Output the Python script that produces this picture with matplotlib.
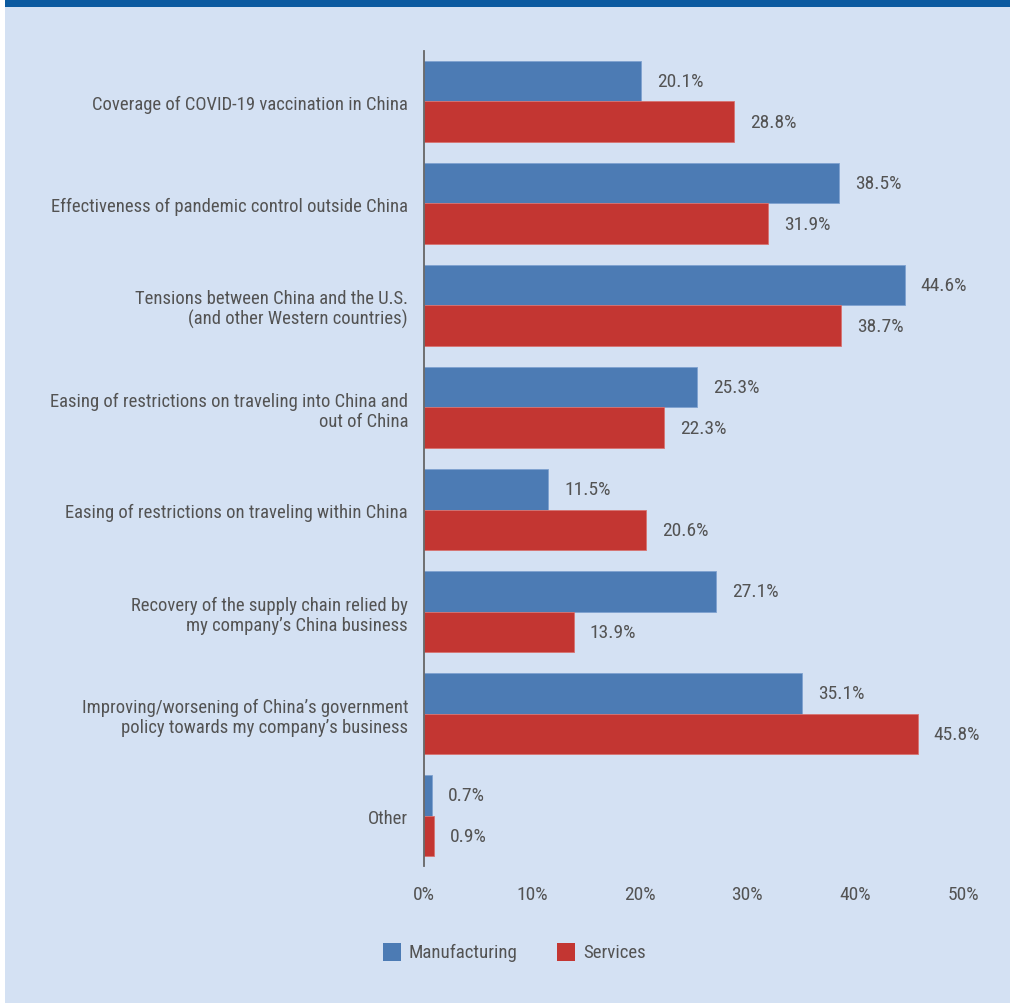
import matplotlib
matplotlib.use("Agg")
import matplotlib.pyplot as plt
from matplotlib.patches import Rectangle
import numpy as np

plt.rcParams['font.family'] = ['Roboto Condensed', 'DejaVu Sans']

categories = [
    "Coverage of COVID-19 vaccination in China",
    "Effectiveness of pandemic control outside China",
    "Tensions between China and the U.S.\n(and other Western countries)",
    "Easing of restrictions on traveling into China and\nout of China",
    "Easing of restrictions on traveling within China",
    "Recovery of the supply chain relied by\nmy company\u2019s China business",
    "Improving/worsening of China\u2019s government\npolicy towards my company\u2019s business",
    "Other",
]
manufacturing = [20.1, 38.5, 44.6, 25.3, 11.5, 27.1, 35.1, 0.7]
services = [28.8, 31.9, 38.7, 22.3, 20.6, 13.9, 45.8, 0.9]
xticks = [0, 10, 20, 30, 40, 50]
series_names = ["Manufacturing", "Services"]

BG = "#d4e1f3"
TOP = "#0b5aa0"
BLUE = "#4c7bb4"
RED = "#c33632"
TXT = "#535353"
FS_CAT = 13.4
FS_VAL = 14
FS_TICK = 14
FS_LEG = 13.6

W, H = 1010, 1004
fig = plt.figure(figsize=(W / 100, H / 100), dpi=100, facecolor="white")

# panel background and header band
fig.add_artist(Rectangle((5 / W, 0), 1 - 5 / W, 1 - 8 / H, transform=fig.transFigure,
                         facecolor=BG, edgecolor="none", zorder=-10))
fig.add_artist(Rectangle((5 / W, 1 - 8 / H), 1 - 5 / W, 8 / H, transform=fig.transFigure,
                         facecolor=TOP, edgecolor="none", zorder=-10))

ax_l, ax_r = 424 / W, 963 / W
ax_t, ax_b = 1 - 52 / H, 1 - 867 / H
ax = fig.add_axes([ax_l, ax_b, ax_r - ax_l, ax_t - ax_b])
ax.set_facecolor("none")

y = np.arange(len(categories))
bh = 0.397
ax.barh(y - bh / 2, manufacturing, height=bh, color=BLUE, edgecolor="#7fa2d0", linewidth=0.6)
ax.barh(y + bh / 2, services, height=bh, color=RED, edgecolor="#d77370", linewidth=0.6)

for yi, v in zip(y, manufacturing):
    ax.annotate(f"{v:.1f}%", (v, yi - bh / 2), xytext=(16, 0), textcoords="offset pixels",
                va="center", ha="left", fontsize=FS_VAL, color=TXT)
for yi, v in zip(y, services):
    ax.annotate(f"{v:.1f}%", (v, yi + bh / 2), xytext=(16, 0), textcoords="offset pixels",
                va="center", ha="left", fontsize=FS_VAL, color=TXT)

ax.set_xlim(0, 50)
ax.set_ylim(len(categories) - 0.505, -0.495)
ax.set_yticks(y)
ax.set_yticklabels(categories, fontsize=FS_CAT, color=TXT, linespacing=1.15)
ax.set_xticks(xticks)
ax.set_xticklabels([f"{t}%" for t in xticks], fontsize=FS_TICK, color=TXT)
ax.tick_params(axis="y", length=0, pad=11.5)
ax.tick_params(axis="x", length=0, pad=13.5)
for s in ["top", "right", "bottom"]:
    ax.spines[s].set_visible(False)
ax.spines["left"].set_color("#666666")
ax.spines["left"].set_linewidth(1.3)

# legend
for x0, c, name in [(383, BLUE, series_names[0]), (557, RED, series_names[1])]:
    fig.add_artist(Rectangle((x0 / W, 1 - 962 / H), 18 / W, 18 / H, transform=fig.transFigure,
                             facecolor=c, edgecolor="none"))
    fig.text((x0 + 26) / W, 1 - 953 / H, name, fontsize=FS_LEG, color=TXT, va="center", ha="left")

fig.savefig("out.png", dpi=100, facecolor="white")
